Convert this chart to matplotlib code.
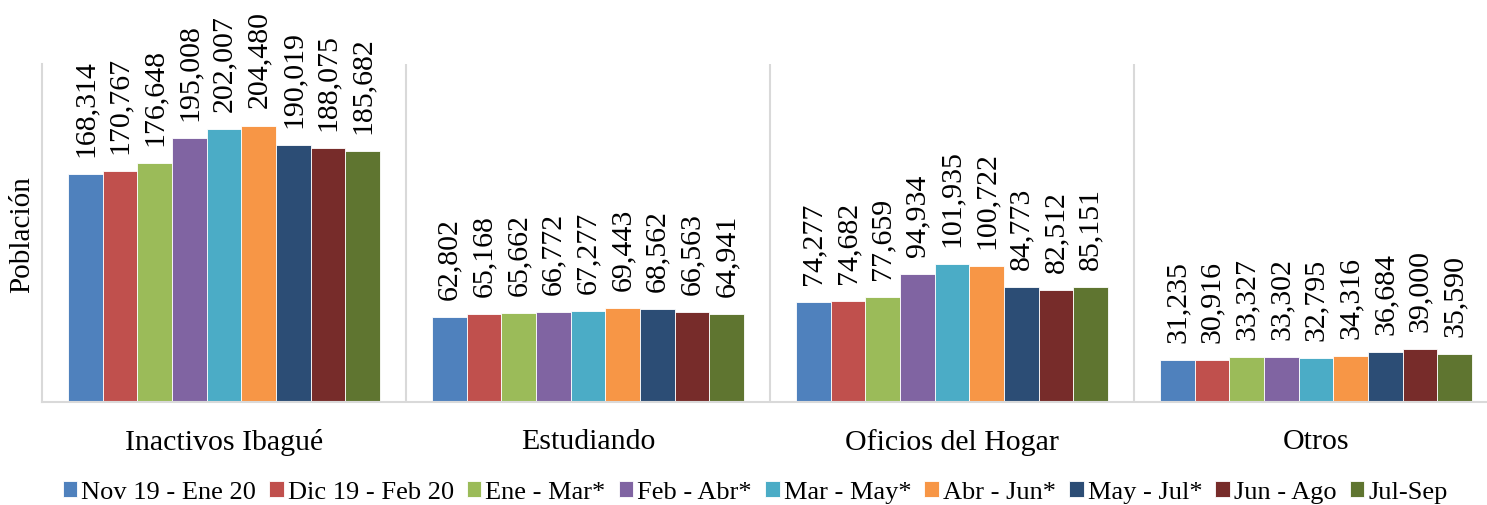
import numpy as np
import matplotlib
matplotlib.use('Agg')
import matplotlib.pyplot as plt

plt.rcParams['font.family'] = ['Liberation Serif', 'DejaVu Serif']

categorias = ['Inactivos Ibagué', 'Estudiando', 'Oficios del Hogar', 'Otros']
periodos = ['Nov 19 - Ene 20', 'Dic 19 - Feb 20', 'Ene - Mar*', 'Feb - Abr*',
            'Mar - May*', 'Abr - Jun*', 'May - Jul*', 'Jun - Ago', 'Jul-Sep']

inactivos = [168314, 170767, 176648, 195008, 202007, 204480, 190019, 188075, 185682]
estudiando = [62802, 65168, 65662, 66772, 67277, 69443, 68562, 66563, 64941]
oficios = [74277, 74682, 77659, 94934, 101935, 100722, 84773, 82512, 85151]
otros = [31235, 30916, 33327, 33302, 32795, 34316, 36684, 39000, 35590]

colores = ['#4F81BD', '#C0504D', '#9BBB59', '#8064A2', '#4BACC6',
           '#F79646', '#2C4D75', '#772C2A', '#5F7530']

valores = np.array([inactivos, estudiando, oficios, otros])

fig = plt.figure(figsize=(14.87, 5.06), dpi=100)
ax = fig.add_axes([42 / 1487, 103 / 506, 1 - 42 / 1487, (403 - 65) / 506])

x = np.arange(len(categorias))
n = len(periodos)
ancho = 0.857 / n

for j in range(n):
    pos = x - 0.857 / 2 + ancho * (j + 0.5)
    barras = ax.bar(pos, valores[:, j], width=ancho, color=colores[j],
                    edgecolor='white', linewidth=0.6, label=periodos[j])
    for b, v in zip(barras, valores[:, j]):
        ax.annotate(f'{v:,}', (b.get_x() + b.get_width() / 2, v),
                    xytext=(0, 13), textcoords='offset points',
                    rotation=90, ha='center', va='bottom', fontsize=21.5)

for sep in [0.5, 1.5, 2.5]:
    ax.axvline(sep, color='#d9d9d9', linewidth=1.5, zorder=0)

ax.set_xlim(-0.5, 3.5 - 11 / 364)
ax.set_ylim(0, 250000)
ax.set_yticks([])
ax.set_xticks(x)
ax.set_xticklabels(categorias, fontsize=21.5)
ax.tick_params(axis='x', length=0, pad=19)

for s in ['top', 'right']:
    ax.spines[s].set_visible(False)
for s in ['left', 'bottom']:
    ax.spines[s].set_color('#d9d9d9')
    ax.spines[s].set_linewidth(1.5)

fig.text(22 / 1487, 1 - 235 / 506, 'Población', rotation=90,
         ha='center', va='center', fontsize=21)

fig.legend(loc='center', bbox_to_anchor=(755 / 1487, 1 - 493 / 506), ncol=9,
           frameon=False, fontsize=19, handlelength=0.55, handleheight=0.55,
           handletextpad=0.15, columnspacing=0.5, borderaxespad=0)

fig.savefig('out.png', dpi=100)
